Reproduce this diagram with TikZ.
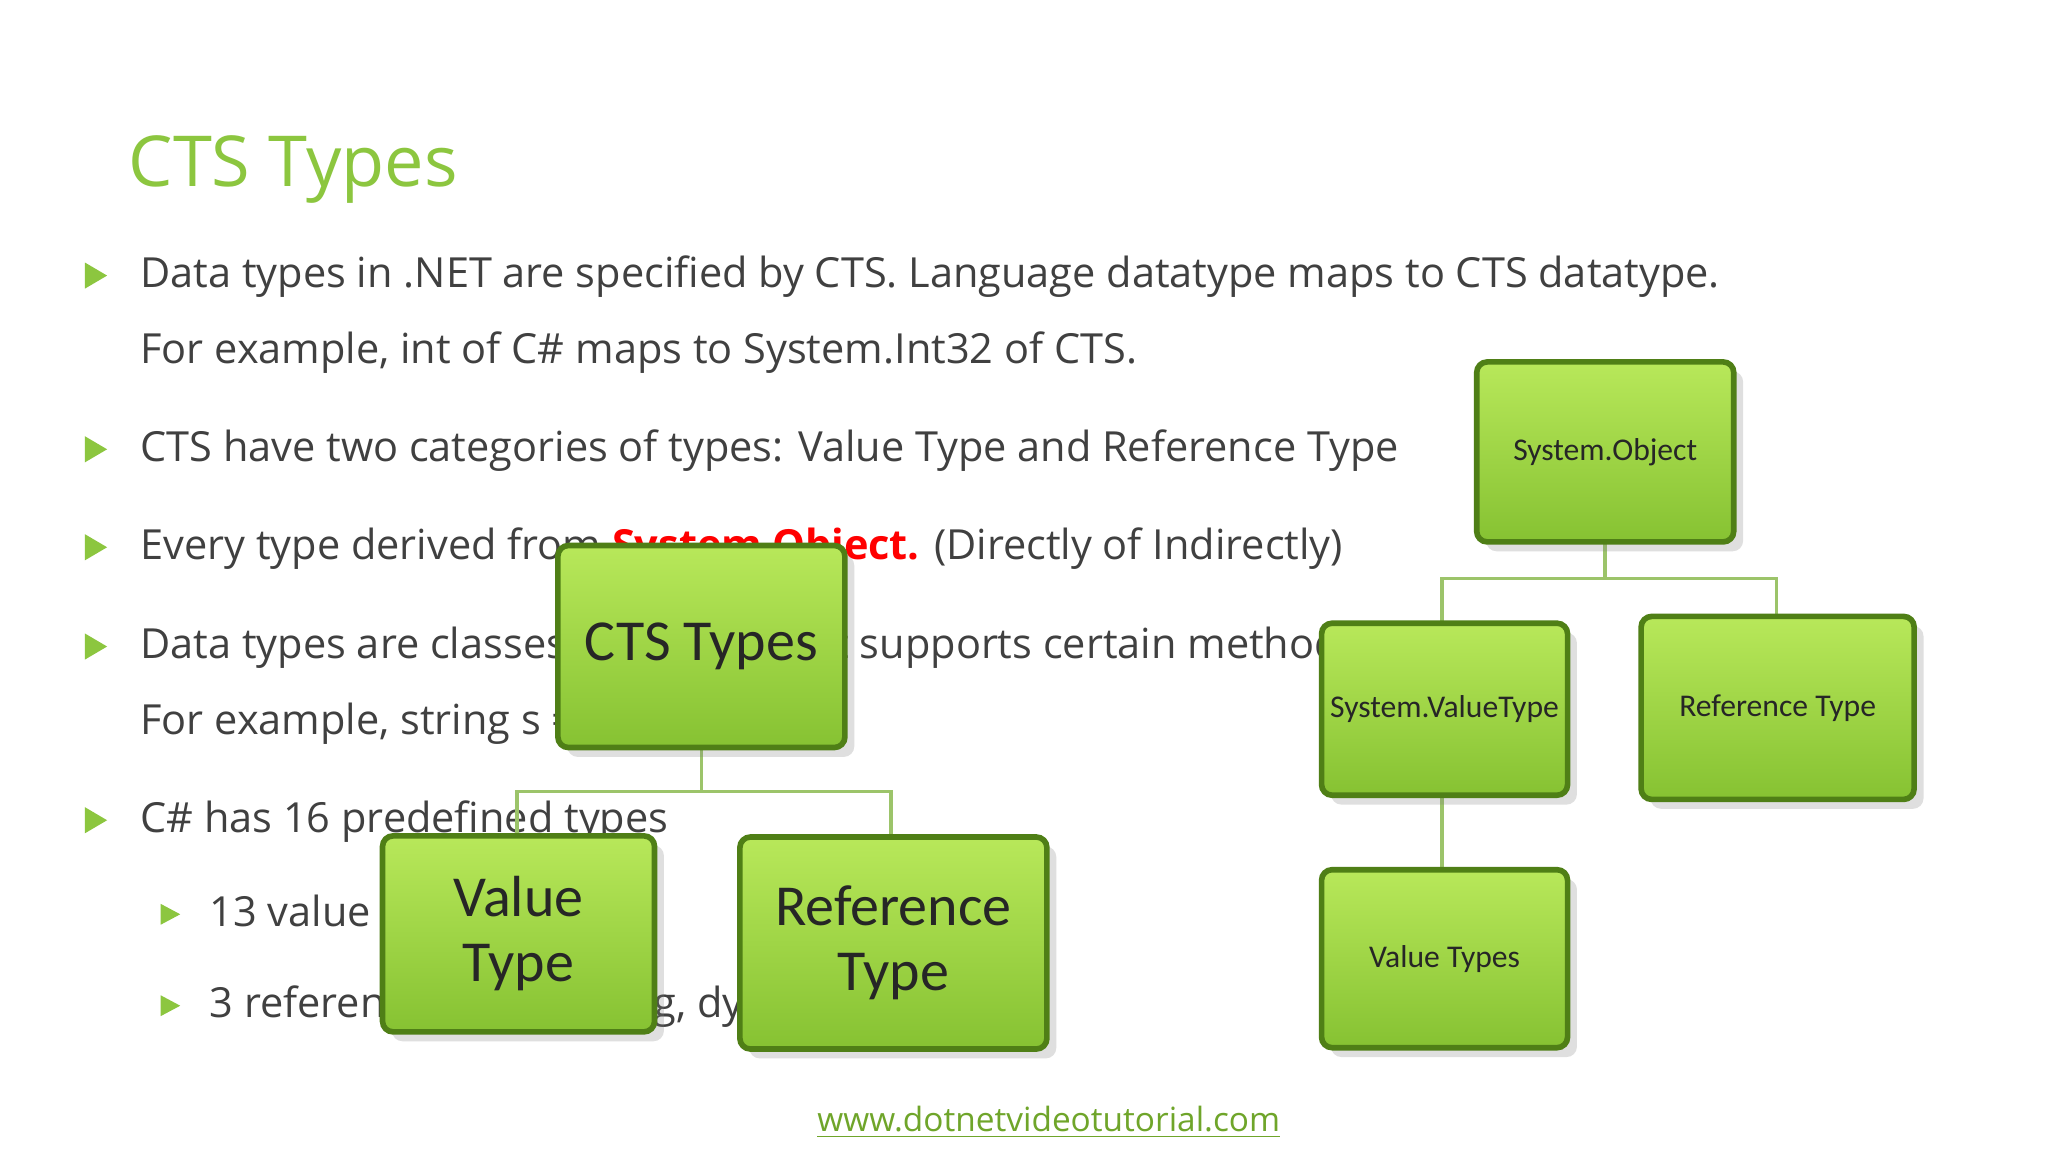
\documentclass[tikz,border=0pt]{standalone}
\usepackage{fontspec}
\setmainfont{Open Sans}
\newfontfamily\boxfont{Carlito}
\usetikzlibrary{positioning,shadows}
\definecolor{titlegreen}{HTML}{8CC63F}
\definecolor{boxlight}{HTML}{B8E85A}
\definecolor{boxdark}{HTML}{86C232}
\definecolor{boxedge}{HTML}{4F7F16}
\definecolor{linkgreen}{HTML}{6FA52A}
\definecolor{textgray}{HTML}{404040}
\definecolor{treeline}{HTML}{9CC46A}

\begin{document}
\begin{tikzpicture}[x=0.01306cm, y=-0.01306cm,
			bodytext/.style={anchor=base west, inner sep=0pt, font=\fontsize{11.8}{14}\selectfont, text=textgray},
			bullet/.style={fill=titlegreen, draw=none},
			greenbox/.style={draw=boxedge, line width=1.6pt, rounded corners=3pt, top color=boxlight, bottom color=boxdark, align=center, text=black!85, inner sep=2pt,
				drop shadow={opacity=0.25}},
			bigbox/.style={greenbox, font=\boxfont\fontsize{16.5}{18.5}\selectfont},
			smallbox/.style={greenbox, font=\boxfont\fontsize{9}{11}\selectfont},
			tree/.style={draw=treeline, line width=1pt}
			]
			\useasboundingbox (0,0) rectangle (1568,882);
			\fill[white] (0,0) rectangle (1568,882);
			
			% Title
			\node[anchor=base west, inner sep=0pt, text=titlegreen, font=\fontsize{20}{24}\selectfont] (title) at (98,143) {CTS Types};
			
			% Bullets
			\foreach \y in {211,344,419,495,628}
				\fill[bullet] (65,\y-10) -- (82,\y) -- (65,\y+10) -- cycle;
			\foreach \y in {700,770}
				\fill[bullet] (123,\y-8) -- (138,\y) -- (123,\y+8) -- cycle;
			
			% Body text
			\node[bodytext] (line1) at (107,220) {Data types in .NET are specified by CTS. Language datatype maps to CTS datatype.};
			\node[bodytext] (line2) at (107,278) {For example, int of C\# maps to System.Int32 of CTS.};
			\node[bodytext] (line3) at (107,353) {CTS have two categories of types: Value Type and Reference Type};
			\node[bodytext] (line4) at (107,428) {Every type derived from \textcolor{red}{\bfseries System.Object.} (Directly of Indirectly)};
			\node[bodytext] (line5) at (107,504) {Data types are classes or structs that supports certain methods.};
			\node[bodytext] (line6) at (107,562) {For example, string s = "hello";};
			\node[bodytext] (line7) at (107,637) {C\# has 16 predefined types};
			\node[bodytext] (line8) at (160,709) {13 value types};
			\node[bodytext] (line9) at (160,779) {3 reference types (string, dynamic, object)};
			
			% Left tree
			\draw[tree] (537,572) -- (537,606) -- (396,606) -- (396,640);
			\draw[tree] (537,606) -- (682,606) -- (682,641);
			\node[bigbox, minimum width=2.87cm, minimum height=2.02cm] (cts) at (537,495) {CTS Types};
			\node[bigbox, minimum width=2.72cm, minimum height=1.96cm] (valuetype) at (397,715) {Value\\Type};
			\node[bigbox, minimum width=3.07cm, minimum height=2.12cm] (reftype) at (684,722) {Reference\\Type};
			
			% Right tree
			\draw[tree] (1229,415) -- (1229,443) -- (1104,443) -- (1104,477);
			\draw[tree] (1229,443) -- (1360,443) -- (1360,472);
			\draw[tree] (1104,609) -- (1104,666);
			\node[smallbox, minimum width=2.57cm, minimum height=1.80cm] (sysobject) at (1229,346) {System.Object};
			\node[smallbox, minimum width=2.46cm, minimum height=1.72cm] (sysvalue) at (1106,543) {System.ValueType};
			\node[smallbox, minimum width=2.73cm, minimum height=1.83cm] (refright) at (1361,542) {Reference Type};
			\node[smallbox, minimum width=2.46cm, minimum height=1.78cm] (valuetypes) at (1106,734) {Value Types};
			
			% Link
			\node[anchor=base, inner sep=0pt, text=linkgreen, font=\fontsize{9.5}{11}\selectfont] (link) at (803,866) {\underline{www.dotnetvideotutorial.com}};
		\end{tikzpicture}
\end{document}
